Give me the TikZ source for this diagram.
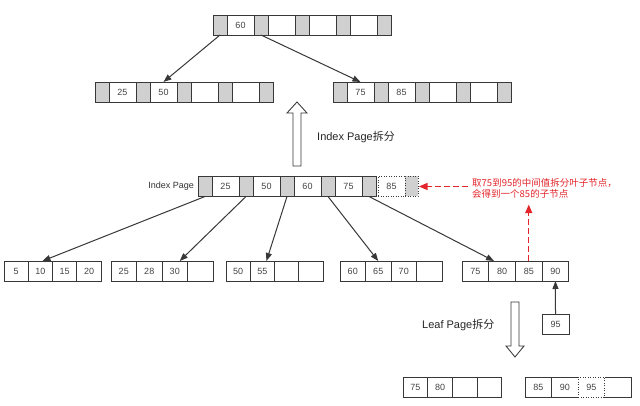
\documentclass[tikz,border=0pt]{standalone}
\usepackage{fontspec}
\setmainfont{Liberation Sans}
\newfontfamily\cjk{Noto Sans CJK SC}
\usetikzlibrary{arrows.meta,calc}
\definecolor{cellgray}{HTML}{D0D0D0}
\definecolor{edge}{HTML}{383838}
\definecolor{txt}{HTML}{444444}
\definecolor{redc}{HTML}{E3262B}
\tikzset{
  cell/.style={draw=edge, line width=0.85pt, inner sep=0pt, outer sep=0pt, anchor=north west,
    minimum height=20pt, font=\fontsize{9}{10}\selectfont, text=txt},
  gc/.style={cell, fill=cellgray, minimum width=14pt},
  wc/.style={cell, fill=white, minimum width=27pt},
  lc/.style={cell, fill=white},
  dotcell/.style={dash pattern=on 1pt off 1.5pt},
  arr/.style={-{Triangle[length=8pt,width=6pt]}, line width=1pt, draw=edge},
  reddash/.style={-{Triangle[length=8.5pt,width=7pt]}, line width=1.2pt, draw=redc, dash pattern=on 6pt off 3pt},
  hollow/.style={draw=edge, line width=0.85pt, fill=white, line join=miter},
  lbl/.style={inner sep=0pt, text=black!80, font=\fontsize{9}{10}\selectfont},
  biglbl/.style={inner sep=0pt, text=black!85, font=\fontsize{11}{12}\selectfont},
}
\newcommand{\ipage}[7]{%
  \node[gc] (#1g1) at (#2,#3) {};
  \node[wc] (#1w1) at (#1g1.north east) {#4};
  \node[gc] (#1g2) at (#1w1.north east) {};
  \node[wc] (#1w2) at (#1g2.north east) {#5};
  \node[gc] (#1g3) at (#1w2.north east) {};
  \node[wc] (#1w3) at (#1g3.north east) {#6};
  \node[gc] (#1g4) at (#1w3.north east) {};
  \node[wc] (#1w4) at (#1g4.north east) {#7};
  \node[gc] (#1g5) at (#1w4.north east) {};
}
\newcommand{\lpage}[8]{%
  \node[lc, minimum width=#4pt] (#1c1) at (#2,#3) {#5};
  \node[lc, minimum width=#4pt] (#1c2) at (#1c1.north east) {#6};
  \node[lc, minimum width=#4pt] (#1c3) at (#1c2.north east) {#7};
  \node[lc, minimum width=#4pt] (#1c4) at (#1c3.north east) {#8};
}
\begin{document}
\begin{tikzpicture}[x=1pt, y=-1pt]
  \fill[white] (0,0) rectangle (640,406);
  \useasboundingbox (0,0) rectangle (640,406);

  % internal pages
  \ipage{T}{213}{15}{60}{}{}{}
  \ipage{A}{95}{82}{25}{50}{}{}
  \ipage{B}{333}{82}{75}{85}{}{}
  \ipage{I}{198}{176.5}{25}{50}{60}{75}
  \node[wc, dotcell] (Idw) at ([xshift=2pt]Ig5.north east) {85};
  \node[gc, dotcell, minimum width=13pt] (Idg) at (Idw.north east) {};
  \node[lbl, anchor=east] (ilab) at ([xshift=-4pt]Ig1.west) {Index Page};

  % leaf pages
  \lpage{La}{4}{261}{24.3}{5}{10}{15}{20}
  \lpage{Lb}{111}{261}{25.5}{25}{28}{30}{}
  \lpage{Lc}{226}{261}{24.3}{50}{55}{}{}
  \lpage{Ld}{340}{261}{25.5}{60}{65}{70}{}
  \lpage{Le}{462}{261}{26.7}{75}{80}{85}{90}

  \node[lc, minimum width=27pt] (n95) at (542,314) {95};

  % bottom split leaves
  \lpage{Lf}{403}{377}{24.7}{75}{80}{}{}
  \node[lc, minimum width=26.5pt] (Lgc1) at (525,377) {85};
  \node[lc, minimum width=26.5pt] (Lgc2) at (Lgc1.north east) {90};
  \node[lc, minimum width=26.5pt] (Lgc4) at ([xshift=26.5pt]Lgc2.north east) {};
  \node[lc, dotcell, minimum width=26.5pt] (Lgc3) at (Lgc2.north east) {95};

  % connectors
  \draw[arr] (Tg1.south) -- (Aw2.north);
  \draw[arr] (Tg2.south) -- (Bw1.north);
  \draw[arr] (Ig1.south) -- ([xshift=2pt]Lac2.north);
  \draw[arr] (Ig2.south) -- ([xshift=5pt]Lbc3.north);
  \draw[arr] (Ig3.south) -- ([xshift=4pt]Lcc2.north);
  \draw[arr] (Ig4.south) -- (Ldc2.north);
  \draw[arr] (Ig5.south) -- ([xshift=-8pt]Lec2.north);
  \draw[arr] (n95.north) -- (Lec4.south);

  % red annotation
  \node[inner sep=1pt, anchor=west, align=left, text=redc, font=\cjk\fontsize{9.5}{11}\selectfont] (redtext) at (471,188.5)
    {取75到95的中间值拆分叶子节点，\\会得到一个85的子节点};
  \draw[reddash] ($(redtext.west |- Idg.east)+(-3,0)$) -- ([xshift=1pt]Idg.east);
  \draw[reddash] (Lec3.north) -- ([yshift=-5pt]Lec3.north |- redtext.south);

  % hollow arrows
  \draw[hollow] (293,166) -- (293,113) -- (287,113) -- (297,102) -- (307,113) -- (301,113) -- (301,166) -- cycle;
  \node[biglbl, anchor=west] (isplit) at (317,137) {Index Page{\cjk 拆分}};
  \draw[hollow] (511,302) -- (511,346) -- (506,346) -- (515,357) -- (524,346) -- (519,346) -- (519,302) -- cycle;
  \node[biglbl, anchor=west] (lsplit) at (422,325) {Leaf Page{\cjk 拆分}};
\end{tikzpicture}
\end{document}
